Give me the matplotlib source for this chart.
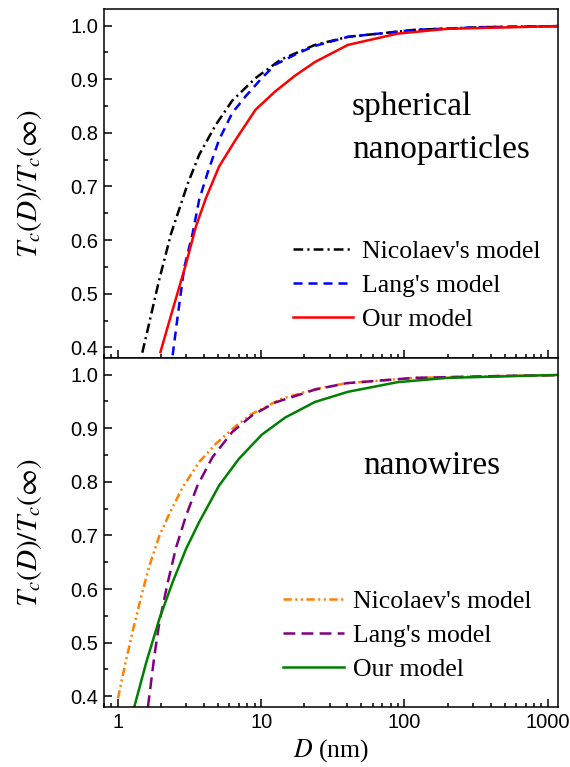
import matplotlib
matplotlib.use("Agg")
import matplotlib.pyplot as plt
from matplotlib.ticker import MultipleLocator, LogLocator, FixedLocator, NullFormatter, FormatStrFormatter

plt.rcParams['mathtext.fontset'] = 'stix'
plt.rcParams['lines.scale_dashes'] = False

# ---- data: spherical nanoparticles ----
D_nic_s = [1.48, 1.62, 1.95, 2.35, 2.76, 3.07, 3.69, 4.82, 6.28, 9.12, 13.6, 23.7, 40.3, 117, 338, 1180]
v_nic_s = [0.390, 0.435, 0.528, 0.612, 0.668, 0.705, 0.759, 0.815, 0.860, 0.902, 0.936, 0.964, 0.979, 0.992, 0.997, 0.999]
D_lang_s = [2.41, 2.61, 2.91, 3.32, 3.69, 4.22, 5.08, 6.28, 7.78, 10.1, 12.5, 18.2, 23.7, 40.3, 117, 338, 1180]
v_lang_s = [0.385, 0.457, 0.550, 0.612, 0.675, 0.725, 0.787, 0.837, 0.868, 0.902, 0.927, 0.949, 0.962, 0.979, 0.992, 0.997, 0.999]
D_our_s = [1.98, 2.35, 2.99, 3.5, 4.11, 5.08, 6.63, 9.12, 12.5, 17.3, 23.7, 40.3, 89.5, 199, 1180]
v_our_s = [0.391, 0.460, 0.556, 0.625, 0.678, 0.737, 0.787, 0.843, 0.877, 0.907, 0.932, 0.964, 0.985, 0.994, 0.999]

# ---- data: nanowires ----
D_nic_w = [1.0, 1.12, 1.28, 1.46, 1.66, 1.95, 2.29, 2.83, 3.69, 4.82, 6.63, 8.64, 13.9, 23.7, 39.2, 117, 575, 1180]
v_nic_w = [0.396, 0.458, 0.526, 0.588, 0.644, 0.700, 0.741, 0.790, 0.837, 0.871, 0.904, 0.927, 0.955, 0.973, 0.984, 0.994, 0.998, 0.999]
D_lang_w = [1.62, 1.80, 1.95, 2.23, 2.55, 2.99, 3.59, 4.57, 6.28, 8.64, 12.5, 23.7, 39.2, 117, 575, 1180]
v_lang_w = [0.380, 0.477, 0.539, 0.613, 0.678, 0.737, 0.793, 0.846, 0.893, 0.924, 0.948, 0.972, 0.984, 0.994, 0.998, 0.999]
D_our_w = [1.30, 1.58, 1.95, 2.41, 2.99, 3.69, 5.08, 6.99, 10.1, 14.7, 23.7, 40.3, 89.5, 199, 1180]
v_our_w = [0.380, 0.464, 0.545, 0.613, 0.675, 0.725, 0.793, 0.843, 0.888, 0.920, 0.949, 0.968, 0.986, 0.994, 0.9995]

labels = ["Nicolaev's model", "Lang's model", "Our model"]
yticks = [0.4, 0.5, 0.6, 0.7, 0.8, 0.9, 1.0]
xticks = [1, 10, 100, 1000]
xtick_labels = ["1", "10", "100", "1000"]

fig = plt.figure(figsize=(5.70, 7.67), dpi=100)
ax1 = fig.add_axes([0.1825, 0.5332, 0.7965, 0.4551])
ax2 = fig.add_axes([0.1825, 0.0782, 0.7965, 0.4550], sharex=ax1)

lw = 1.8
ax1.plot(D_nic_s, v_nic_s, color='black', lw=lw, ls=(0, (7, 3, 1.5, 3)), label=labels[0])
ax1.plot(D_lang_s, v_lang_s, color='#0000ff', lw=lw, ls=(0, (6.5, 4.3)), label=labels[1])
ax1.plot(D_our_s, v_our_s, color='#ff0000', lw=lw, ls='-', label=labels[2])

ax2.plot(D_nic_w, v_nic_w, color='#ff8000', lw=lw, ls=(0, (6, 2.5, 1.5, 2.5, 1.5, 2.5)), label=labels[0])
ax2.plot(D_lang_w, v_lang_w, color='#800080', lw=lw, ls=(0, (8.5, 4.5)), label=labels[1])
ax2.plot(D_our_w, v_our_w, color='#008000', lw=lw, ls='-', label=labels[2])

serif = 'Liberation Serif'
for ax in (ax1, ax2):
    ax.set_xscale('log')
    ax.set_xlim(0.8, 1180)
    ax.set_ylim(0.38, 1.031)
    ax.yaxis.set_major_locator(FixedLocator(yticks))
    ax.yaxis.set_minor_locator(MultipleLocator(0.05))
    ax.yaxis.set_major_formatter(FormatStrFormatter('%.1f'))
    ax.xaxis.set_major_locator(FixedLocator(xticks))
    ax.xaxis.set_minor_locator(LogLocator(base=10, subs=range(2, 10)))
    ax.xaxis.set_minor_formatter(NullFormatter())
    ax.tick_params(which='both', direction='in', top=False, right=False, width=1.1)
    ax.tick_params(which='major', length=5.5, labelsize=14.5, pad=4)
    ax.tick_params(which='minor', length=3)
    for lab in ax.get_yticklabels() + ax.get_xticklabels():
        lab.set_fontfamily('Liberation Sans')
    for s in ax.spines.values():
        s.set_linewidth(1.1)
    ax.set_ylabel(r'$T_c(D)/T_c(\infty)$', fontsize=21)
    ax.yaxis.set_label_coords(-0.133, 0.5)

ax1.tick_params(labelbottom=False)
ax2.set_xticklabels(xtick_labels, fontfamily='Liberation Sans')
ax2.set_xlabel(r'$D$ (nm)', fontsize=18.5, fontfamily=serif, labelpad=4)

leg_kw = dict(frameon=False, prop={'family': serif, 'size': 18.5}, handlelength=2.35,
              handletextpad=0.35, labelspacing=0.42, borderpad=0, borderaxespad=0)
ax1.legend(loc='upper left', bbox_to_anchor=(0.416, 0.337), **leg_kw)
ax2.legend(loc='upper left', bbox_to_anchor=(0.395, 0.334), **leg_kw)

ax1.text(0.546, 0.696, 'spherical', transform=ax1.transAxes, fontsize=24,
         fontfamily=serif, va='baseline', ha='left')
ax1.text(0.546, 0.573, 'nanoparticles', transform=ax1.transAxes, fontsize=24,
         fontfamily=serif, va='baseline', ha='left')
ax2.text(0.570, 0.668, 'nanowires', transform=ax2.transAxes, fontsize=24,
         fontfamily=serif, va='baseline', ha='left')

fig.savefig('out.png', dpi=100)
